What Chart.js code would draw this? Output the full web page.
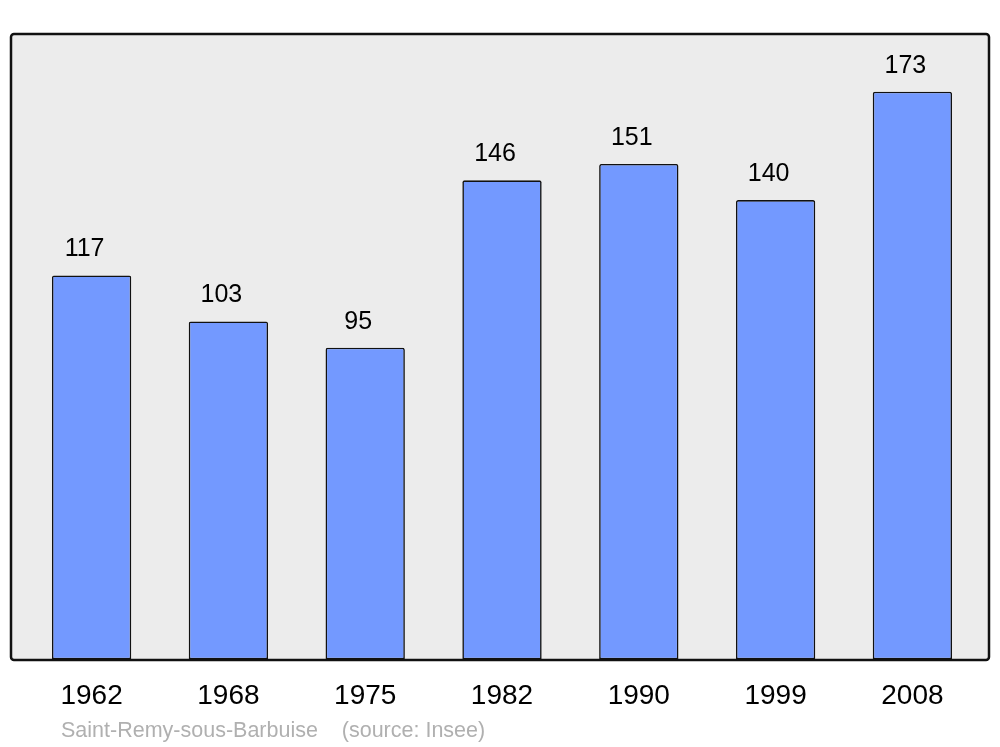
<!DOCTYPE html>
<html>
<head>
<meta charset="utf-8">
<script src="https://cdn.jsdelivr.net/npm/chart.js@4"></script>
<style>
  html, body { margin: 0; padding: 0; background: #fff; }
  #wrap { width: 1000px; height: 747px; }
</style>
</head>
<body>
<div id="wrap"><canvas id="popChart" width="1000" height="747"></canvas></div>
<script>
// Population by census year
const years = ["1962", "1968", "1975", "1982", "1990", "1999", "2008"];
const population = [117, 103, 95, 146, 151, 140, 173];
const sourceLabel = "Saint-Remy-sous-Barbuise    (source: Insee)";

const FONT = "'Liberation Sans', Arial, sans-serif";

// Grey panel behind the bars, black frame on top
const framePlugin = {
  id: "frame",
  beforeDatasetsDraw(chart) {
    const ctx = chart.ctx;
    ctx.save();
    ctx.fillStyle = "#ececec";
    ctx.beginPath();
    ctx.roundRect(11, 34, 978, 626, 3);
    ctx.fill();
    ctx.restore();
  },
  afterDatasetsDraw(chart) {
    const ctx = chart.ctx;
    ctx.save();
    ctx.strokeStyle = "#111";
    ctx.lineWidth = 2.5;
    ctx.beginPath();
    ctx.roundRect(11, 34, 978, 626, 3);
    ctx.stroke();

    // value labels above each bar (sit a little left of centre in the original)
    const meta = chart.getDatasetMeta(0);
    ctx.fillStyle = "#000";
    ctx.font = "25px " + FONT;
    ctx.textAlign = "center";
    ctx.textBaseline = "alphabetic";
    meta.data.forEach((bar, i) => {
      ctx.fillText(String(population[i]), bar.x - 7, bar.y - 19);
    });

    // source line
    ctx.fillStyle = "#b0b0b0";
    ctx.font = "21.5px " + FONT;
    ctx.textAlign = "left";
    ctx.textBaseline = "middle";
    ctx.fillText(sourceLabel, 61, 731);
    ctx.restore();
  }
};

const ctx = document.getElementById("popChart").getContext("2d");
new Chart(ctx, {
  type: "bar",
  data: {
    labels: years,
    datasets: [{
      data: population,
      backgroundColor: "rgb(115, 153, 255)",
      borderColor: "#111",
      borderWidth: 1.6,
      borderSkipped: false,
      borderRadius: { topLeft: 2, topRight: 2, bottomLeft: 0, bottomRight: 0 },
      barPercentage: 0.58,
      categoryPercentage: 1
    }]
  },
  options: {
    responsive: false,
    animation: false,
    layout: { padding: { left: 23.2, right: 19.2, top: 34, bottom: 14 } },
    plugins: {
      legend: { display: false },
      tooltip: { enabled: false }
    },
    scales: {
      x: {
        grid: { display: false, drawTicks: false },
        border: { display: false },
        ticks: {
          color: "#000",
          font: { family: FONT, size: 28 },
          padding: 20
        }
      },
      y: {
        display: false,
        min: 0,
        max: 190.6
      }
    }
  },
  plugins: [framePlugin]
});
</script>
</body>
</html>
